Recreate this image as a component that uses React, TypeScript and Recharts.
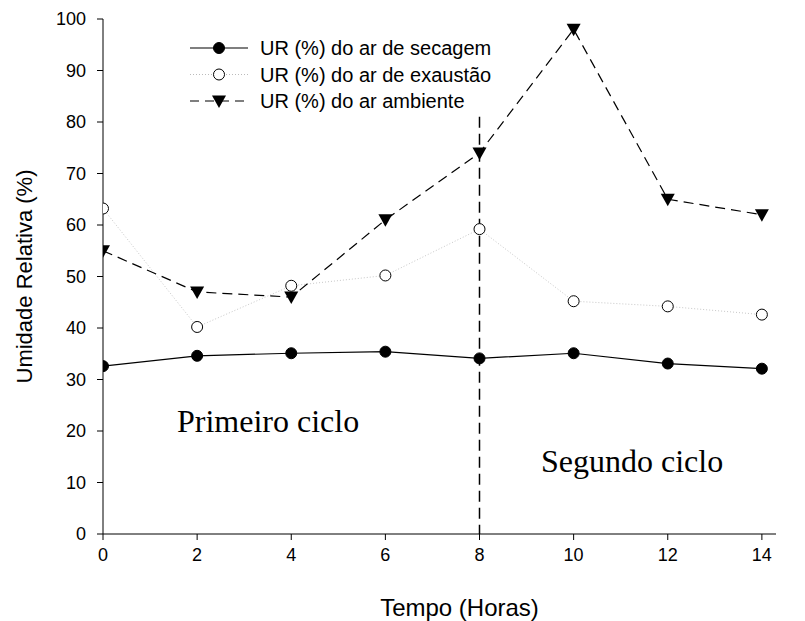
import React from "react";
import { LineChart, Line, XAxis, YAxis, ReferenceLine } from "recharts";

// ─── DATA ──────────────────────────────────────────────────────────────────
const horas = [0, 2, 4, 6, 8, 10, 12, 14];
const urSecagem = [32.6, 34.6, 35.1, 35.4, 34.1, 35.1, 33.1, 32.1];
const urExaustao = [63.2, 40.2, 48.2, 50.2, 59.2, 45.2, 44.2, 42.6];
const urAmbiente = [55, 47, 46, 61, 74, 98, 65, 62];
const yTicks = [0, 10, 20, 30, 40, 50, 60, 70, 80, 90, 100];
const xTicks = [0, 2, 4, 6, 8, 10, 12, 14];

const data = horas.map((h, i) => ({
  h,
  secagem: urSecagem[i],
  exaustao: urExaustao[i],
  ambiente: urAmbiente[i],
}));

const FONT = "'Liberation Sans', Arial, sans-serif";
const SERIF = "'Liberation Serif', 'Times New Roman', serif";

// ─── MARKERS ───────────────────────────────────────────────────────────────
const FilledDot = ({ cx, cy }: any) => (
  <circle cx={cx} cy={cy} r={5.5} fill="#000" stroke="#000" strokeWidth={1} />
);
const OpenDot = ({ cx, cy }: any) => (
  <circle cx={cx} cy={cy} r={5.5} fill="#fff" stroke="#000" strokeWidth={1} />
);
const TriDot = ({ cx, cy }: any) => (
  <path
    d={`M${cx - 7},${cy - 5.5} L${cx + 7},${cy - 5.5} L${cx},${cy + 7} Z`}
    fill="#000"
  />
);

// ─── LEGEND (overlay, so it doesn't eat plot space) ────────────────────────
const legendRows = [
  { label: "UR (%) do ar de secagem", dash: undefined, color: "#000", Marker: FilledDot },
  { label: "UR (%) do ar de exaustão", dash: "1 2", color: "#bbb", Marker: OpenDot },
  { label: "UR (%) do ar ambiente", dash: "9 6", color: "#000", Marker: TriDot },
];

const ChartLegend = () => (
  <svg width={320} height={80} style={{ display: "block" }}>
    {legendRows.map((r, i) => {
      const y = 10 + i * 26.5;
      return (
        <g key={r.label}>
          <line
            x1={2}
            x2={60}
            y1={y}
            y2={y}
            stroke={r.color}
            strokeWidth={1.2}
            strokeDasharray={r.dash}
          />
          <r.Marker cx={31} cy={y} />
          <text x={72} y={y + 7} fontFamily={FONT} fontSize={20} fill="#000">
            {r.label}
          </text>
        </g>
      );
    })}
  </svg>
);

const cycleText = {
  position: "absolute" as const,
  fontFamily: SERIF,
  fontSize: 32,
  lineHeight: "32px",
  color: "#000",
  whiteSpace: "nowrap" as const,
};

// ─── MAIN ──────────────────────────────────────────────────────────────────
export default function App() {
  return (
    <div
      style={{
        position: "absolute",
        left: 0,
        top: 0,
        width: 805,
        height: 621,
        background: "#fff",
      }}
    >
      <LineChart
        width={805}
        height={621}
        data={data}
        margin={{ top: 19, right: 29, left: 43, bottom: 57 }}
      >
        <XAxis
          dataKey="h"
          type="number"
          domain={[0, 14.3]}
          ticks={xTicks}
          allowDataOverflow
          tick={{ fontFamily: FONT, fontSize: 18, fill: "#000" }}
          tickSize={6}
          tickMargin={8}
          height={30}
          stroke="#000"
          label={{
            value: "Tempo (Horas)",
            position: "insideBottom",
            offset: -52,
            dx: 20,
            fontFamily: FONT,
            fontSize: 24,
            fill: "#000",
          }}
        />
        <YAxis
          type="number"
          domain={[0, 100]}
          ticks={yTicks}
          allowDataOverflow
          tick={{ fontFamily: FONT, fontSize: 18, fill: "#000" }}
          tickSize={6}
          tickMargin={11}
          width={60}
          stroke="#000"
          label={{
            value: "Umidade Relativa (%)",
            angle: -90,
            position: "insideLeft",
            offset: -19,
            style: { textAnchor: "middle" },
            fontFamily: FONT,
            fontSize: 22,
            fill: "#000",
          }}
        />
        <ReferenceLine
          segment={[
            { x: 8, y: 81 },
            { x: 8, y: 0 },
          ]}
          stroke="#000"
          strokeWidth={1.5}
          strokeDasharray="11 6"
        />
        <Line
          dataKey="exaustao"
          stroke="#c8c8c8"
          strokeWidth={1}
          strokeDasharray="1 2"
          dot={<OpenDot />}
          isAnimationActive={false}
        />
        <Line
          dataKey="ambiente"
          stroke="#000"
          strokeWidth={1.2}
          strokeDasharray="10 6"
          dot={<TriDot />}
          isAnimationActive={false}
        />
        <Line
          dataKey="secagem"
          stroke="#000"
          strokeWidth={1.2}
          dot={<FilledDot />}
          isAnimationActive={false}
        />
      </LineChart>

      <div style={{ position: "absolute", left: 188, top: 38 }}>
        <ChartLegend />
      </div>

      <div style={{ ...cycleText, left: 177, top: 405 }}>Primeiro ciclo</div>
      <div style={{ ...cycleText, left: 541, top: 445 }}>Segundo ciclo</div>
    </div>
  );
}
